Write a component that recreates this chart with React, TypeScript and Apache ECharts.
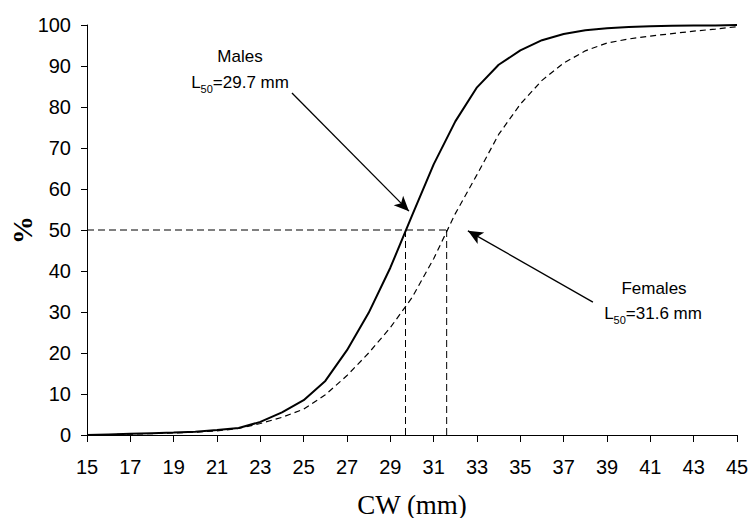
import React, { useEffect, useRef } from "react";
import * as echarts from "echarts";

const cw = [15, 16, 17, 18, 19, 20, 21, 22, 23, 24, 25, 26, 27, 28, 29, 30, 31, 32, 33, 34, 35, 36, 37, 38, 39, 40, 41, 42, 43, 44, 45];
const males = [0, 0.15, 0.3, 0.45, 0.6, 0.8, 1.2, 1.7, 3.2, 5.5, 8.5, 13.2, 20.7, 29.8, 40.8, 53.5, 66, 76.5, 84.8, 90.3, 93.8, 96.3, 97.8, 98.7, 99.2, 99.5, 99.7, 99.8, 99.9, 99.9, 100];
const females = [0, 0.1, 0.2, 0.35, 0.5, 0.7, 1.0, 1.6, 2.8, 4.3, 6.3, 9.8, 14.5, 20, 26.2, 33.5, 43, 54, 63.5, 73.3, 80.7, 86.5, 90.7, 93.7, 95.6, 96.6, 97.3, 97.9, 98.5, 99.0, 99.6];
const xTicks = [15, 17, 19, 21, 23, 25, 27, 29, 31, 33, 35, 37, 39, 41, 43, 45];
const L50 = { males: 29.7, females: 31.6 };
const halfLevel = 50;

const sans = '"Liberation Sans", Arial, sans-serif';
const serif = '"Liberation Serif", "Times New Roman", serif';

export default function App() {
  const ref = useRef<HTMLDivElement>(null);
  useEffect(() => {
    if (!ref.current) return;
    const chart = echarts.init(ref.current, undefined, { renderer: "svg" });
    const dashed = { color: "#000", width: 1, type: [7, 4] };
    const refLine = (data: number[][]) => ({
      type: "line",
      data,
      symbol: "none",
      silent: true,
      lineStyle: dashed,
      z: 1,
    });
    const annoRich = {
      n: { fontSize: 17, fontFamily: sans, fill: "#000", color: "#000", lineHeight: 24 },
      s: { fontSize: 11, fontFamily: sans, fill: "#000", color: "#000", lineHeight: 12, verticalAlign: "bottom" },
    };
    chart.setOption({
      animation: false,
      grid: { left: 87, right: 13, top: 25, bottom: 83, containLabel: false, outerBoundsMode: "none" },
      xAxis: {
        type: "value",
        min: 15,
        max: 45,
        axisLine: { show: true, onZero: false, lineStyle: { color: "#000", width: 1 } },
        axisTick: { show: true, customValues: xTicks, length: 7, lineStyle: { color: "#000" } },
        axisLabel: { customValues: xTicks, fontSize: 20, color: "#000", fontFamily: sans, margin: 22 },
        splitLine: { show: false },
        name: "CW (mm)",
        nameLocation: "middle",
        nameMoveOverlap: false,
        nameGap: 56,
        nameTextStyle: { fontFamily: serif, fontSize: 27, lineHeight: 27, color: "#000" },
      },
      yAxis: {
        type: "value",
        min: 0,
        max: 100,
        interval: 10,
        axisLine: { show: true, lineStyle: { color: "#000", width: 1 } },
        axisTick: { show: true, length: 6, lineStyle: { color: "#000" } },
        axisLabel: { fontSize: 20, color: "#000", fontFamily: sans, margin: 16 },
        splitLine: { show: false },
        name: "%",
        nameLocation: "middle",
        nameMoveOverlap: false,
        nameRotate: 90,
        nameGap: 51,
        nameTextStyle: { fontFamily: serif, fontSize: 28, lineHeight: 28, fontWeight: "bold", color: "#000" },
      },
      series: [
        refLine([[15, halfLevel], [L50.females, halfLevel]]),
        refLine([[L50.males, 0], [L50.males, halfLevel]]),
        refLine([[L50.females, 0], [L50.females, halfLevel]]),
        {
          type: "line",
          name: "Females",
          data: cw.map((x, i) => [x, females[i]]),
          symbol: "none",
          lineStyle: { color: "#000", width: 1.2, type: [6, 4] },
          z: 2,
        },
        {
          type: "line",
          name: "Males",
          data: cw.map((x, i) => [x, males[i]]),
          symbol: "none",
          lineStyle: { color: "#000", width: 2 },
          z: 3,
          markLine: {
            silent: true,
            symbol: ["none", "arrow"],
            symbolSize: [10, 15],
            label: { show: false },
            lineStyle: { color: "#000", width: 1.3, type: "solid" },
            data: [
              [{ coord: [24.46, 83.4] }, { coord: [29.86, 54.6] }],
              [{ coord: [38.35, 32.4] }, { coord: [32.58, 49.8] }],
            ],
          },
        },
      ],
      graphic: [
        { type: "text", x: 240, y: 56, style: { text: "Males", fill: "#000", font: `17px ${sans}`, align: "center", verticalAlign: "middle" } },
        { type: "text", x: 240, y: 82, style: { text: "{n|L}{s|50}{n|=29.7 mm}", fill: "#000", rich: annoRich, align: "center", verticalAlign: "middle" } },
        { type: "text", x: 654, y: 288, style: { text: "Females", fill: "#000", font: `17px ${sans}`, align: "center", verticalAlign: "middle" } },
        { type: "text", x: 653, y: 313, style: { text: "{n|L}{s|50}{n|=31.6 mm}", fill: "#000", rich: annoRich, align: "center", verticalAlign: "middle" } },
      ],
    });
    return () => chart.dispose();
  }, []);
  return <div ref={ref} style={{ width: 750, height: 518, position: "absolute", left: 0, top: 0 }} />;
}
